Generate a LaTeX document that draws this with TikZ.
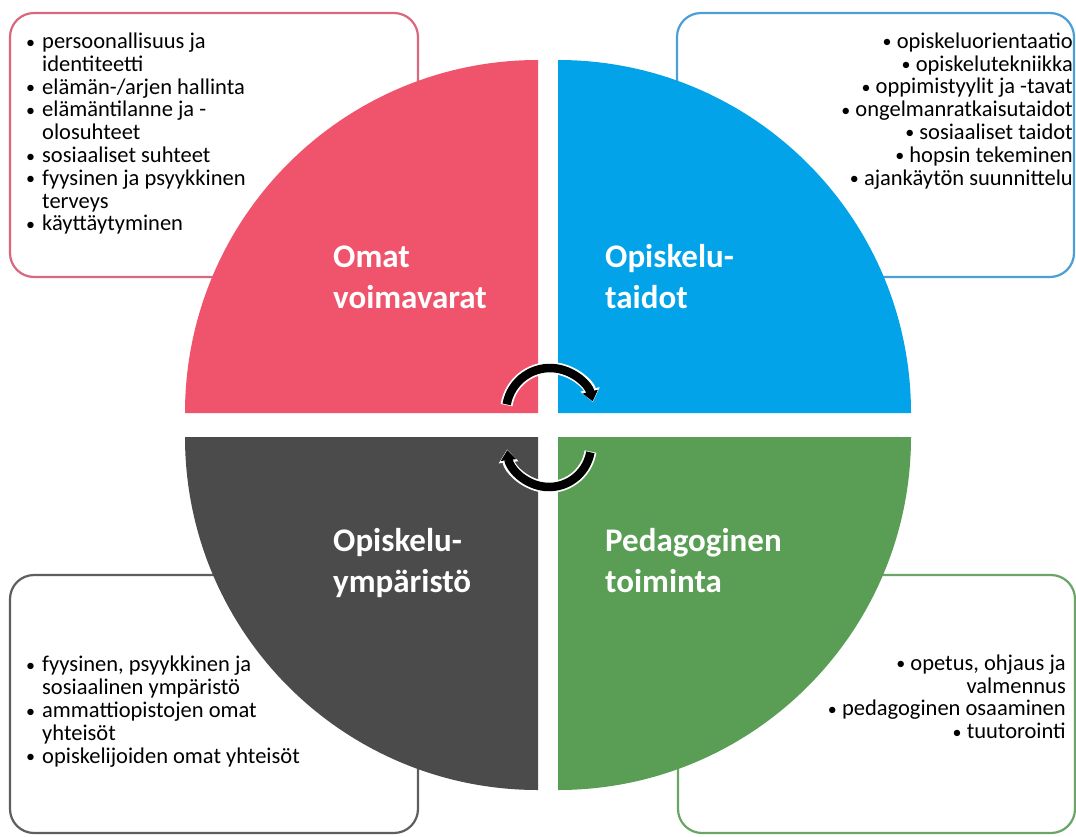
\documentclass[tikz,border=0pt]{standalone}
\usepackage{fontspec}
\setmainfont{Carlito}
\usetikzlibrary{arrows.meta}
\definecolor{cpink}{HTML}{F0546C}
\definecolor{cblue}{HTML}{02A3E8}
\definecolor{cgray}{HTML}{4B4B4B}
\definecolor{cgreen}{HTML}{5A9E55}
\definecolor{bpink}{HTML}{D9687E}
\definecolor{bblue}{HTML}{4B9ED6}
\definecolor{bgray}{HTML}{5E5E5E}
\definecolor{bgreen}{HTML}{6AA566}
\newcommand\smbul{\raisebox{0.5pt}{\scalebox{0.8}{\textbullet}}}
\newcommand\bul{\makebox[17pt][l]{\hspace*{1pt}\smbul}}
\newcommand\hang{\hspace*{17pt}}
\newcommand\fr{\rule{0pt}{18pt}}
\newcommand\tr{\rule{0pt}{26pt}}
\begin{document}
\begin{tikzpicture}[x=1pt,y=-1pt,
  infobox/.style={line width=2.2pt, fill=white, rounded corners=24pt},
  itemtext/.style={inner sep=0pt, text=black, font={\fontsize{22.5pt}{22.8pt}\selectfont}},
  title/.style={inner sep=0pt, anchor=north west, align=left, text=white, font={\fontsize{33pt}{41.5pt}\selectfont\bfseries}},
  cycback/.style={line width=12pt, white, -{Triangle[length=13pt,width=19pt]}},
  cycfront/.style={line width=8.5pt, black, -{Triangle[length=10pt,width=15pt]}}]
\useasboundingbox (0,0) rectangle (1076,836);
\fill[white] (0,0) rectangle (1076,836);
% boxes
\draw[infobox, draw=bpink] (10,13) rectangle (418,277);
\draw[infobox, draw=bblue] (677,13) rectangle (1074,277);
\draw[infobox, draw=bgray] (10,575) rectangle (418,833);
\draw[infobox, draw=bgreen] (678,575) rectangle (1075,833);
% quadrants
\fill[cpink] (538,413) -- (185,413) arc[start angle=180,end angle=270,radius=353] -- cycle;
\fill[cblue] (558,413) -- (558,60) arc[start angle=270,end angle=360,radius=353] -- cycle;
\fill[cgray] (538,437) -- (185,437) arc[start angle=180,end angle=90,radius=353] -- cycle;
\fill[cgreen] (558,437) -- (911,437) arc[start angle=0,end angle=90,radius=353] -- cycle;
% cycle arrows
\coordinate (ta) at (550,412);
\coordinate (ba) at (549,445);
\draw[cycback] ([shift={(189:44)}]ta) arc[start angle=189,end angle=347,radius=44];
\draw[cycfront] ([shift={(190:44)}]ta) arc[start angle=190,end angle=346,radius=44];
\draw[cycback] ([shift={(9:42)}]ba) arc[start angle=9,end angle=174,radius=42];
\draw[cycfront] ([shift={(10:42)}]ba) arc[start angle=10,end angle=173,radius=42];
% titles
\node[title] (t1) at (333,241) {\tr Omat\\voimavarat};
\node[title] (t2) at (605,241) {\tr Opiskelu-\\taidot};
\node[title] (t3) at (333,525) {\tr Opiskelu-\\ympäristö};
\node[title] (t4) at (605,525) {\tr Pedagoginen\\toiminta};
% item lists
\node[itemtext, anchor=north west, align=left] (tlx) at (25,30.3)
  {\fr\bul persoonallisuus ja\\\hang identiteetti\\\bul elämän-/arjen hallinta\\\bul elämäntilanne ja -\\\hang olosuhteet\\\bul sosiaaliset suhteet\\\bul fyysinen ja psyykkinen\\\hang terveys\\\bul käyttäytyminen};
\node[itemtext, anchor=north east, align=right] (trx) at (1073,30)
  {\fr\smbul\ opiskeluorientaatio\\\smbul\ opiskelutekniikka\\\smbul\ oppimistyylit ja -tavat\\\smbul\ ongelmanratkaisutaidot\\\smbul\ sosiaaliset taidot\\\smbul\ hopsin tekeminen\\\smbul\ ajankäytön suunnittelu};
\node[itemtext, anchor=north west, align=left] (blx) at (25,653.7)
  {\fr\bul fyysinen, psyykkinen ja\\\hang sosiaalinen ympäristö\\\bul ammattiopistojen omat\\\hang yhteisöt\\\bul opiskelijoiden omat yhteisöt};
\node[itemtext, anchor=north east, align=right] (brx) at (1066,652)
  {\fr\smbul\ opetus, ohjaus ja\\valmennus\\\smbul\ pedagoginen osaaminen\\\smbul\ tuutorointi};
\end{tikzpicture}
\end{document}
